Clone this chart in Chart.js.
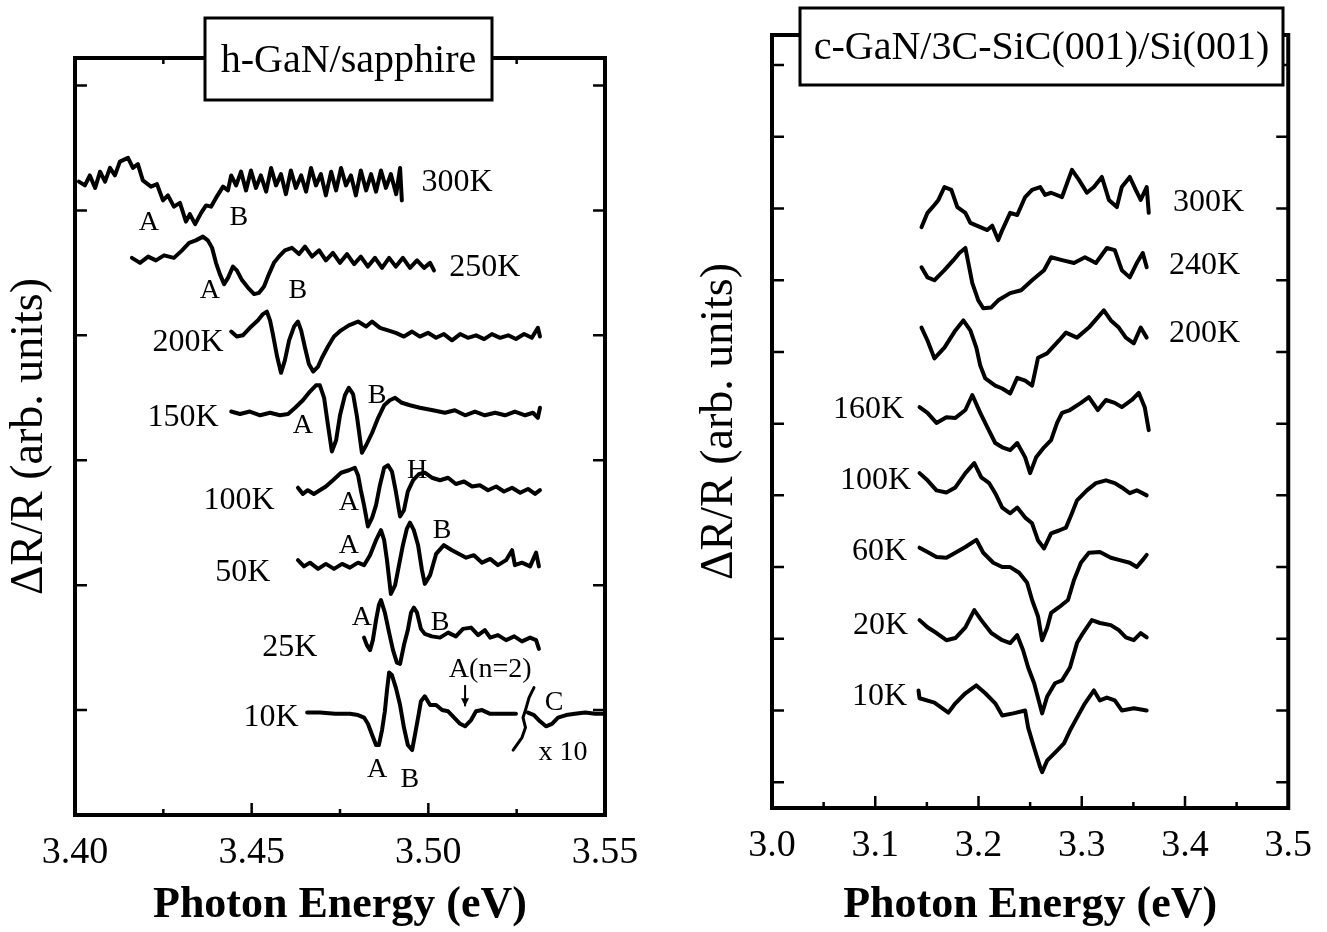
<!DOCTYPE html>
<html>
<head>
<meta charset="utf-8">
<title>Reflectance spectra h-GaN / c-GaN</title>
<script src="https://cdn.jsdelivr.net/npm/chart.js@4.4.1/dist/chart.umd.min.js"></script>
<style>
  html, body { margin: 0; padding: 0; background: #fff; }
  #wrap { position: relative; width: 1327px; height: 932px; }
  .panel { position: absolute; top: 0; height: 932px; }
  #left { left: 0; width: 660px; }
  #right { left: 660px; width: 667px; }
</style>
</head>
<body>
<div id="wrap">
  <div class="panel" id="left"><canvas id="hgan"></canvas></div>
  <div class="panel" id="right"><canvas id="cgan"></canvas></div>
</div>
<script>
// ---- h-GaN/sapphire: traces as [photon energy (eV), ΔR/R relative to trace baseline] ----
const hTemps = ['300K', '250K', '200K', '150K', '100K', '50K', '25K', '10K'];
const hBase = [4.22, 3.60, 3.01, 2.38, 1.78, 1.18, 0.58, -0.02];

const h300 = [[3.4011,0.01],[3.4028,-0.02],[3.4042,0.06],[3.4057,-0.04],[3.4071,0.09],[3.4085,0.01],[3.4099,0.12],[3.4113,0.06],[3.4127,0.17],[3.4150,0.20],[3.4164,0.12],[3.4178,0.15],[3.4192,0.02],[3.4215,-0.03],[3.4232,-0.01],[3.4249,-0.14],[3.4263,-0.10],[3.4280,-0.19],[3.4297,-0.16],[3.4314,-0.31],[3.4325,-0.25],[3.4340,-0.33],[3.4357,-0.24],[3.4371,-0.18],[3.4385,-0.19],[3.4399,-0.12],[3.4419,-0.03],[3.4433,-0.06],[3.4442,0.06],[3.4456,-0.02],[3.4470,0.09],[3.4484,-0.06],[3.4498,0.10],[3.4512,-0.04],[3.4526,0.06],[3.4541,-0.07],[3.4555,0.12],[3.4569,-0.02],[3.4583,0.07],[3.4597,-0.09],[3.4611,0.10],[3.4625,-0.04],[3.4640,0.06],[3.4654,-0.07],[3.4668,0.12],[3.4682,-0.02],[3.4696,0.07],[3.4710,-0.10],[3.4725,0.09],[3.4739,-0.06],[3.4753,0.12],[3.4767,-0.02],[3.4781,0.06],[3.4795,-0.10],[3.4809,0.10],[3.4824,-0.06],[3.4838,0.07],[3.4852,-0.07],[3.4866,0.10],[3.4880,-0.04],[3.4894,0.07],[3.4909,-0.09],[3.4920,0.12],[3.4925,-0.14]];
const h250 = [[3.4161,0.02],[3.4184,-0.02],[3.4207,0.03],[3.4229,0.0],[3.4252,0.04],[3.4280,0.02],[3.4303,0.08],[3.4323,0.14],[3.4342,0.16],[3.4362,0.19],[3.4376,0.16],[3.4388,0.10],[3.4399,-0.02],[3.4410,-0.11],[3.4422,-0.19],[3.4433,-0.14],[3.4447,-0.05],[3.4458,-0.08],[3.4473,-0.16],[3.4490,-0.22],[3.4507,-0.27],[3.4521,-0.26],[3.4535,-0.21],[3.4549,-0.11],[3.4563,-0.02],[3.4577,0.03],[3.4594,0.08],[3.4614,0.10],[3.4634,0.05],[3.4651,0.11],[3.4671,0.03],[3.4691,0.08],[3.4710,0.0],[3.4730,0.06],[3.4750,-0.02],[3.4770,0.05],[3.4790,-0.03],[3.4809,0.03],[3.4829,-0.05],[3.4849,0.02],[3.4869,-0.06],[3.4889,0.02],[3.4908,-0.05],[3.4928,0.02],[3.4948,-0.06],[3.4968,0.0],[3.4988,-0.06],[3.5005,-0.02],[3.5016,-0.08]];
const h200 = [[3.4442,0.02],[3.4458,-0.02],[3.4475,-0.01],[3.4495,0.05],[3.4518,0.11],[3.4532,0.16],[3.4543,0.18],[3.4552,0.11],[3.4560,0.0],[3.4572,-0.18],[3.4583,-0.31],[3.4594,-0.21],[3.4606,-0.05],[3.4620,0.06],[3.4631,0.10],[3.4640,0.03],[3.4651,-0.11],[3.4662,-0.24],[3.4674,-0.30],[3.4688,-0.26],[3.4699,-0.19],[3.4716,-0.10],[3.4733,-0.02],[3.4753,0.03],[3.4775,0.07],[3.4801,0.10],[3.4824,0.06],[3.4841,0.10],[3.4863,0.05],[3.4886,0.03],[3.4908,0.01],[3.4931,-0.02],[3.4954,0.02],[3.4976,-0.02],[3.4999,0.01],[3.5022,-0.03],[3.5044,0.0],[3.5067,-0.05],[3.5090,0.0],[3.5112,-0.03],[3.5135,-0.01],[3.5158,-0.04],[3.5180,0.0],[3.5203,-0.03],[3.5226,-0.01],[3.5248,-0.04],[3.5271,0.0],[3.5293,-0.03],[3.5310,0.05],[3.5316,-0.02]];
const h150 = [[3.4442,0.01],[3.4467,-0.01],[3.4495,0.01],[3.4524,-0.02],[3.4552,0.0],[3.4580,-0.02],[3.4603,-0.01],[3.4623,0.04],[3.4645,0.10],[3.4665,0.17],[3.4682,0.22],[3.4693,0.22],[3.4705,0.12],[3.4716,-0.10],[3.4727,-0.31],[3.4739,-0.22],[3.4750,-0.02],[3.4764,0.14],[3.4775,0.20],[3.4787,0.15],[3.4798,-0.03],[3.4812,-0.32],[3.4824,-0.26],[3.4841,-0.16],[3.4858,-0.04],[3.4875,0.06],[3.4891,0.10],[3.4906,0.12],[3.4925,0.08],[3.4948,0.06],[3.4976,0.04],[3.5013,0.02],[3.5047,0.0],[3.5075,0.02],[3.5104,-0.02],[3.5132,0.01],[3.5160,-0.02],[3.5189,0.0],[3.5217,-0.02],[3.5245,0.01],[3.5274,-0.02],[3.5296,0.0],[3.5310,-0.04],[3.5316,0.04]];
const h100 = [[3.4631,0.0],[3.4645,-0.05],[3.4659,-0.02],[3.4676,-0.05],[3.4693,-0.02],[3.4710,0.01],[3.4730,0.06],[3.4753,0.12],[3.4775,0.14],[3.4792,0.16],[3.4801,0.10],[3.4809,-0.02],[3.4818,-0.14],[3.4829,-0.31],[3.4841,-0.24],[3.4852,-0.14],[3.4863,0.02],[3.4875,0.16],[3.4886,0.18],[3.4897,0.13],[3.4908,-0.03],[3.4920,-0.23],[3.4931,-0.18],[3.4942,-0.03],[3.4957,0.06],[3.4974,0.11],[3.4990,0.12],[3.5010,0.08],[3.5033,0.06],[3.5056,0.08],[3.5078,0.03],[3.5101,0.05],[3.5124,0.01],[3.5146,0.02],[3.5169,-0.02],[3.5192,0.01],[3.5214,-0.03],[3.5237,0.0],[3.5260,-0.04],[3.5282,-0.01],[3.5302,-0.05],[3.5316,-0.02]];
const h50 = [[3.4631,0.02],[3.4648,-0.03],[3.4665,0.0],[3.4688,-0.05],[3.4710,-0.01],[3.4733,-0.05],[3.4756,-0.01],[3.4778,-0.04],[3.4801,0.0],[3.4818,-0.02],[3.4835,0.06],[3.4852,0.18],[3.4866,0.26],[3.4875,0.18],[3.4883,0.02],[3.4894,-0.25],[3.4906,-0.18],[3.4917,-0.02],[3.4928,0.14],[3.4939,0.27],[3.4948,0.32],[3.4959,0.26],[3.4971,0.14],[3.4982,-0.06],[3.4990,-0.17],[3.5005,-0.10],[3.5022,0.07],[3.5044,0.14],[3.5067,0.10],[3.5087,0.07],[3.5107,0.04],[3.5129,0.06],[3.5152,0.0],[3.5175,0.03],[3.5197,-0.02],[3.5220,0.02],[3.5237,0.10],[3.5245,-0.02],[3.5265,0.0],[3.5288,-0.03],[3.5305,0.08],[3.5313,-0.03]];
const h25 = [[3.4818,0.0],[3.4826,-0.06],[3.4835,-0.10],[3.4843,-0.02],[3.4852,0.14],[3.4860,0.26],[3.4866,0.30],[3.4877,0.20],[3.4889,0.04],[3.4900,-0.10],[3.4911,-0.20],[3.4920,-0.21],[3.4931,-0.06],[3.4942,0.06],[3.4951,0.20],[3.4959,0.24],[3.4968,0.20],[3.4979,0.07],[3.4990,0.03],[3.5010,0.01],[3.5033,0.0],[3.5056,0.04],[3.5078,0.01],[3.5098,0.07],[3.5121,0.08],[3.5141,0.02],[3.5160,0.06],[3.5175,0.0],[3.5197,0.02],[3.5220,-0.02],[3.5243,0.01],[3.5265,-0.03],[3.5288,0.0],[3.5305,-0.02],[3.5313,-0.09]];
const h10 = [[3.4657,0.0],[3.4693,0.0],[3.4736,-0.01],[3.4778,-0.01],[3.4801,-0.02],[3.4818,-0.04],[3.4829,-0.09],[3.4841,-0.18],[3.4852,-0.26],[3.4860,-0.26],[3.4869,-0.14],[3.4877,0.01],[3.4883,0.18],[3.4889,0.32],[3.4897,0.30],[3.4908,0.20],[3.4920,0.06],[3.4931,-0.12],[3.4942,-0.26],[3.4954,-0.30],[3.4962,-0.18],[3.4971,-0.04],[3.4979,0.09],[3.4990,0.13],[3.5005,0.06],[3.5022,0.06],[3.5039,0.02],[3.5056,0.01],[3.5073,-0.04],[3.5090,-0.09],[3.5104,-0.11],[3.5121,-0.06],[3.5135,0.01],[3.5152,0.02],[3.5175,-0.01],[3.5203,-0.01],[3.5248,-0.01]];
// 10K trace beyond the axis break, magnified x10
const h10x10 = [[3.5282,0.0],[3.5299,-0.02],[3.5316,-0.07],[3.5333,-0.11],[3.5350,-0.09],[3.5367,-0.04],[3.5390,-0.02],[3.5415,-0.01],[3.5444,0.0],[3.5472,-0.01],[3.5500,-0.01]];
// break symbol between the two parts of the 10K trace (absolute ΔR/R units)
const hBreak = [[3.5299,0.18],[3.5285,0.10],[3.5275,0.0],[3.5268,-0.06],[3.5275,-0.14],[3.5265,-0.22],[3.5240,-0.32]];
const hArrow = [[3.5104,0.20],[3.5104,0.03]];

const hTempLabels = [['300K',3.5081,4.22],['250K',3.5160,3.54],['200K',3.4320,2.94],['150K',3.4306,2.34],['100K',3.4464,1.68],['50K',3.4475,1.10],['25K',3.4608,0.50],['10K',3.4555,-0.06]];
const hPeakLabels = [['A',3.4209,3.90],['B',3.4464,3.94],['A',3.4382,3.36],['B',3.4631,3.36],['A',3.4645,2.28],['B',3.4855,2.52],['A',3.4775,1.66],['H',3.4968,1.92],['A',3.4775,1.32],['B',3.5039,1.44],['A',3.4812,0.74],['B',3.5033,0.70],['A(n=2)',3.5175,0.32],['C',3.5356,0.06],['x 10',3.5381,-0.34],['A',3.4855,-0.48],['B',3.4948,-0.56]];
const hYTicks = [0, 1, 2, 3, 4, 5];
const hXMinor = [3.425, 3.475, 3.525];

// ---- c-GaN/3C-SiC(001)/Si(001) ----
const cTemps = ['300K', '240K', '200K', '160K', '100K', '60K', '20K', '10K'];
const cBase = [8.12, 7.21, 6.23, 5.19, 4.14, 3.17, 2.19, 1.14];

const c300 = [[3.1448,-0.38],[3.1506,-0.18],[3.1573,-0.07],[3.1612,0.0],[3.1670,0.18],[3.1737,0.14],[3.1795,-0.10],[3.1873,-0.18],[3.1921,-0.32],[3.2017,-0.38],[3.2085,-0.42],[3.2133,-0.36],[3.2191,-0.56],[3.2230,-0.42],[3.2307,-0.18],[3.2375,-0.21],[3.2452,0.04],[3.2519,0.14],[3.2597,0.18],[3.2645,0.07],[3.2703,0.10],[3.2809,0.04],[3.2905,0.42],[3.2973,0.28],[3.3050,0.10],[3.3118,0.18],[3.3195,0.32],[3.3263,0.0],[3.3340,-0.10],[3.3388,0.18],[3.3465,0.32],[3.3523,0.14],[3.3571,0.0],[3.3629,0.18],[3.3649,-0.18]];
const c240 = [[3.1448,-0.03],[3.1506,-0.17],[3.1573,-0.21],[3.1670,-0.07],[3.1757,0.07],[3.1815,0.17],[3.1873,0.24],[3.1902,0.03],[3.1940,-0.25],[3.1998,-0.49],[3.2046,-0.60],[3.2124,-0.59],[3.2191,-0.49],[3.2307,-0.39],[3.2413,-0.35],[3.2519,-0.21],[3.2635,-0.07],[3.2703,0.11],[3.2809,0.07],[3.2925,0.03],[3.3031,0.11],[3.3137,0.03],[3.3243,0.24],[3.3320,0.21],[3.3388,-0.07],[3.3465,-0.17],[3.3533,0.03],[3.3591,0.17],[3.3629,-0.03]];
const c200 = [[3.1448,0.11],[3.1506,-0.07],[3.1573,-0.32],[3.1670,-0.17],[3.1776,0.07],[3.1853,0.21],[3.1921,0.07],[3.1979,-0.17],[3.2017,-0.42],[3.2066,-0.60],[3.2162,-0.70],[3.2230,-0.74],[3.2307,-0.81],[3.2375,-0.59],[3.2452,-0.63],[3.2519,-0.70],[3.2577,-0.31],[3.2664,-0.25],[3.2780,-0.07],[3.2847,0.04],[3.2954,-0.03],[3.3069,0.11],[3.3214,0.35],[3.3282,0.21],[3.3359,0.11],[3.3427,-0.03],[3.3504,-0.11],[3.3571,0.11],[3.3629,-0.03]];
const c160 = [[3.1429,0.04],[3.1506,-0.04],[3.1593,-0.18],[3.1689,-0.10],[3.1776,-0.11],[3.1873,0.0],[3.1940,0.21],[3.2017,-0.04],[3.2085,-0.24],[3.2162,-0.46],[3.2230,-0.52],[3.2307,-0.56],[3.2375,-0.46],[3.2452,-0.66],[3.2500,-0.88],[3.2558,-0.66],[3.2635,-0.52],[3.2703,-0.42],[3.2761,-0.18],[3.2809,-0.04],[3.2886,0.0],[3.2992,0.10],[3.3069,0.18],[3.3156,0.0],[3.3234,0.14],[3.3320,0.10],[3.3388,0.04],[3.3485,0.14],[3.3552,0.24],[3.3610,0.04],[3.3649,-0.28]];
const c100 = [[3.1429,0.17],[3.1506,0.07],[3.1593,-0.07],[3.1689,-0.10],[3.1776,-0.03],[3.1873,0.17],[3.1959,0.31],[3.2027,0.11],[3.2104,0.03],[3.2162,-0.11],[3.2230,-0.31],[3.2307,-0.39],[3.2375,-0.31],[3.2452,-0.45],[3.2519,-0.53],[3.2577,-0.77],[3.2635,-0.88],[3.2703,-0.67],[3.2780,-0.63],[3.2847,-0.59],[3.2905,-0.39],[3.2954,-0.21],[3.3050,-0.07],[3.3137,0.03],[3.3234,0.07],[3.3320,0.03],[3.3388,-0.03],[3.3465,-0.11],[3.3533,-0.07],[3.3629,-0.14]];
const c60 = [[3.1429,0.10],[3.1506,0.04],[3.1593,-0.03],[3.1689,-0.04],[3.1776,0.03],[3.1873,0.11],[3.1979,0.21],[3.2046,0.03],[3.2143,-0.11],[3.2230,-0.17],[3.2307,-0.17],[3.2394,-0.25],[3.2471,-0.39],[3.2519,-0.63],[3.2577,-0.86],[3.2616,-1.19],[3.2664,-1.02],[3.2703,-0.81],[3.2780,-0.73],[3.2867,-0.63],[3.2925,-0.35],[3.2992,-0.11],[3.3069,0.03],[3.3176,0.04],[3.3282,-0.04],[3.3359,-0.07],[3.3465,-0.11],[3.3533,-0.17],[3.3591,-0.07],[3.3629,0.0]];
const c20 = [[3.1429,0.07],[3.1506,-0.03],[3.1593,-0.11],[3.1689,-0.21],[3.1776,-0.18],[3.1873,-0.03],[3.1959,0.21],[3.2027,0.07],[3.2124,-0.11],[3.2230,-0.21],[3.2307,-0.25],[3.2375,-0.14],[3.2432,-0.35],[3.2481,-0.59],[3.2539,-0.81],[3.2616,-1.23],[3.2664,-1.00],[3.2741,-0.81],[3.2809,-0.77],[3.2886,-0.59],[3.2954,-0.25],[3.3012,-0.11],[3.3098,0.07],[3.3176,0.03],[3.3282,0.0],[3.3359,-0.07],[3.3427,-0.17],[3.3504,-0.21],[3.3571,-0.11],[3.3629,-0.17]];
const c10 = [[3.1419,0.14],[3.1429,0.03],[3.1573,-0.03],[3.1708,-0.17],[3.1776,-0.04],[3.1873,0.10],[3.1979,0.21],[3.2066,0.10],[3.2162,-0.04],[3.2230,-0.21],[3.2336,-0.18],[3.2452,-0.14],[3.2481,-0.38],[3.2539,-0.66],[3.2597,-0.93],[3.2616,-1.00],[3.2664,-0.84],[3.2761,-0.70],[3.2828,-0.60],[3.2886,-0.42],[3.2954,-0.24],[3.3031,-0.04],[3.3118,0.14],[3.3176,0.0],[3.3243,0.04],[3.3320,0.0],[3.3388,-0.14],[3.3504,-0.11],[3.3629,-0.14]];

const cTempLabels = [['300K',3.4228,8.08],['240K',3.4189,7.21],['200K',3.4189,6.26],['160K',3.0936,5.19],['100K',3.1004,4.21],['60K',3.1042,3.21],['20K',3.1052,2.19],['10K',3.1042,1.19]];
const cYTicks = [0, 1, 2, 3, 4, 5, 6, 7, 8, 9, 10];
const cXMinor = [3.05, 3.15, 3.25, 3.35, 3.45];

const SERIF = '"Liberation Serif", "Times New Roman", serif';

function traceLine(label, points, base) {
    return {
        label,
        data: points.map(p => ({ x: p[0], y: base + p[1] })),
        borderColor: '#000',
        borderWidth: 4,
        borderJoinStyle: 'round',
        borderCapStyle: 'round',
        pointRadius: 0,
        tension: 0,
        fill: false
    };
}

// frame, inward ticks, trace labels and the boxed sample title
function decor(cfg) {
    return {
        id: 'decor',
        afterDatasetsDraw(chart) {
            const { ctx, chartArea: a, scales: { x, y } } = chart;
            ctx.save();
            ctx.strokeStyle = '#000';
            ctx.fillStyle = '#000';

            ctx.lineWidth = 2.5;
            ctx.beginPath();
            x.ticks.forEach(t => {
                const px = x.getPixelForValue(t.value);
                ctx.moveTo(px, a.bottom); ctx.lineTo(px, a.bottom - 12);
                ctx.moveTo(px, a.top); ctx.lineTo(px, a.top + 12);
            });
            cfg.xMinor.forEach(v => {
                const px = x.getPixelForValue(v);
                ctx.moveTo(px, a.bottom); ctx.lineTo(px, a.bottom - 6);
                ctx.moveTo(px, a.top); ctx.lineTo(px, a.top + 6);
            });
            cfg.yTicks.forEach(v => {
                const py = y.getPixelForValue(v);
                ctx.moveTo(a.left, py); ctx.lineTo(a.left + 12, py);
                ctx.moveTo(a.right, py); ctx.lineTo(a.right - 12, py);
            });
            ctx.stroke();

            ctx.lineWidth = 4;
            ctx.strokeRect(a.left, a.top, a.right - a.left, a.bottom - a.top);

            ctx.textAlign = 'center';
            ctx.textBaseline = 'middle';
            ctx.font = '32px ' + SERIF;
            cfg.temps.forEach(([txt, e, v]) => ctx.fillText(txt, x.getPixelForValue(e), y.getPixelForValue(v)));
            ctx.font = '28px ' + SERIF;
            (cfg.peaks || []).forEach(([txt, e, v]) => ctx.fillText(txt, x.getPixelForValue(e), y.getPixelForValue(v)));

            if (cfg.arrow) {
                const [p0, p1] = cfg.arrow;
                const ax = x.getPixelForValue(p0[0]);
                const y0 = y.getPixelForValue(p0[1]);
                const y1 = y.getPixelForValue(p1[1]);
                ctx.lineWidth = 2;
                ctx.beginPath();
                ctx.moveTo(ax, y0); ctx.lineTo(ax, y1);
                ctx.stroke();
                ctx.beginPath();
                ctx.moveTo(ax - 4, y1 - 8); ctx.lineTo(ax + 4, y1 - 8); ctx.lineTo(ax, y1);
                ctx.closePath();
                ctx.fill();
            }

            const b = cfg.box;
            ctx.fillStyle = '#fff';
            ctx.fillRect(b.x0, b.y0, b.x1 - b.x0, b.y1 - b.y0);
            ctx.lineWidth = 3;
            ctx.strokeRect(b.x0, b.y0, b.x1 - b.x0, b.y1 - b.y0);
            ctx.fillStyle = '#000';
            ctx.font = '40px ' + SERIF;
            ctx.fillText(b.text, (b.x0 + b.x1) / 2, (b.y0 + b.y1) / 2 + 2);
            ctx.restore();
        }
    };
}

function axisOptions(xMin, xMax, step, digits, yMin, yMax, yWidth, xHeight, yTitlePad, xTitlePad) {
    return {
        x: {
            type: 'linear', min: xMin, max: xMax,
            grid: { display: false, drawTicks: false },
            border: { display: false },
            ticks: {
                stepSize: step, autoSkip: false, maxRotation: 0, padding: 15, color: '#000',
                font: { family: SERIF, size: 38 },
                callback: v => Number(v).toFixed(digits)
            },
            title: {
                display: true, text: 'Photon Energy (eV)', color: '#000',
                font: { family: SERIF, size: 44, weight: 'bold' },
                padding: { top: xTitlePad, bottom: 0 }
            },
            afterFit: s => { s.height = xHeight; }
        },
        y: {
            type: 'linear', min: yMin, max: yMax,
            grid: { display: false, drawTicks: false },
            border: { display: false },
            ticks: { display: false },
            title: {
                display: true, text: 'ΔR/R (arb. units)', color: '#000',
                font: { family: SERIF, size: 46 },
                padding: { top: yTitlePad, bottom: 0 }
            },
            afterFit: s => { s.width = yWidth; }
        }
    };
}

// left panel
const hCurves = [h300, h250, h200, h150, h100, h50, h25, h10];
const hSets = hCurves.map((c, i) => traceLine(hTemps[i], c, hBase[i]));
hSets.push(traceLine('10K x10', h10x10, hBase[7]));
hSets.push(Object.assign(traceLine('break', hBreak, 0), { borderWidth: 3 }));

new Chart(document.getElementById('hgan'), {
    type: 'line',
    data: { datasets: hSets },
    options: {
        responsive: true,
        maintainAspectRatio: false,
        animation: false,
        layout: { padding: { top: 58, right: 55, left: 0, bottom: 0 } },
        plugins: { legend: { display: false }, tooltip: { enabled: false } },
        scales: axisOptions(3.40, 3.55, 0.05, 2, -0.84, 5.22, 75, 117, 2, 1)
    },
    plugins: [decor({
        yTicks: hYTicks, xMinor: hXMinor, temps: hTempLabels, peaks: hPeakLabels, arrow: hArrow,
        box: { text: 'h-GaN/sapphire', x0: 205, x1: 492, y0: 18, y1: 100 }
    })]
});

// right panel
const cCurves = [c300, c240, c200, c160, c100, c60, c20, c10];
const cSets = cCurves.map((c, i) => traceLine(cTemps[i], c, cBase[i]));

new Chart(document.getElementById('cgan'), {
    type: 'line',
    data: { datasets: cSets },
    options: {
        responsive: true,
        maintainAspectRatio: false,
        animation: false,
        layout: { padding: { top: 35, right: 37, left: 0, bottom: 0 } },
        plugins: { legend: { display: false }, tooltip: { enabled: false } },
        scales: axisOptions(3.0, 3.5, 0.1, 1, -0.36, 10.42, 112, 124, 32, 10)
    },
    plugins: [decor({
        yTicks: cYTicks, xMinor: cXMinor, temps: cTempLabels,
        box: { text: 'c-GaN/3C-SiC(001)/Si(001)', x0: 140, x1: 623, y0: 8, y1: 85 }
    })]
});
</script>
</body>
</html>
